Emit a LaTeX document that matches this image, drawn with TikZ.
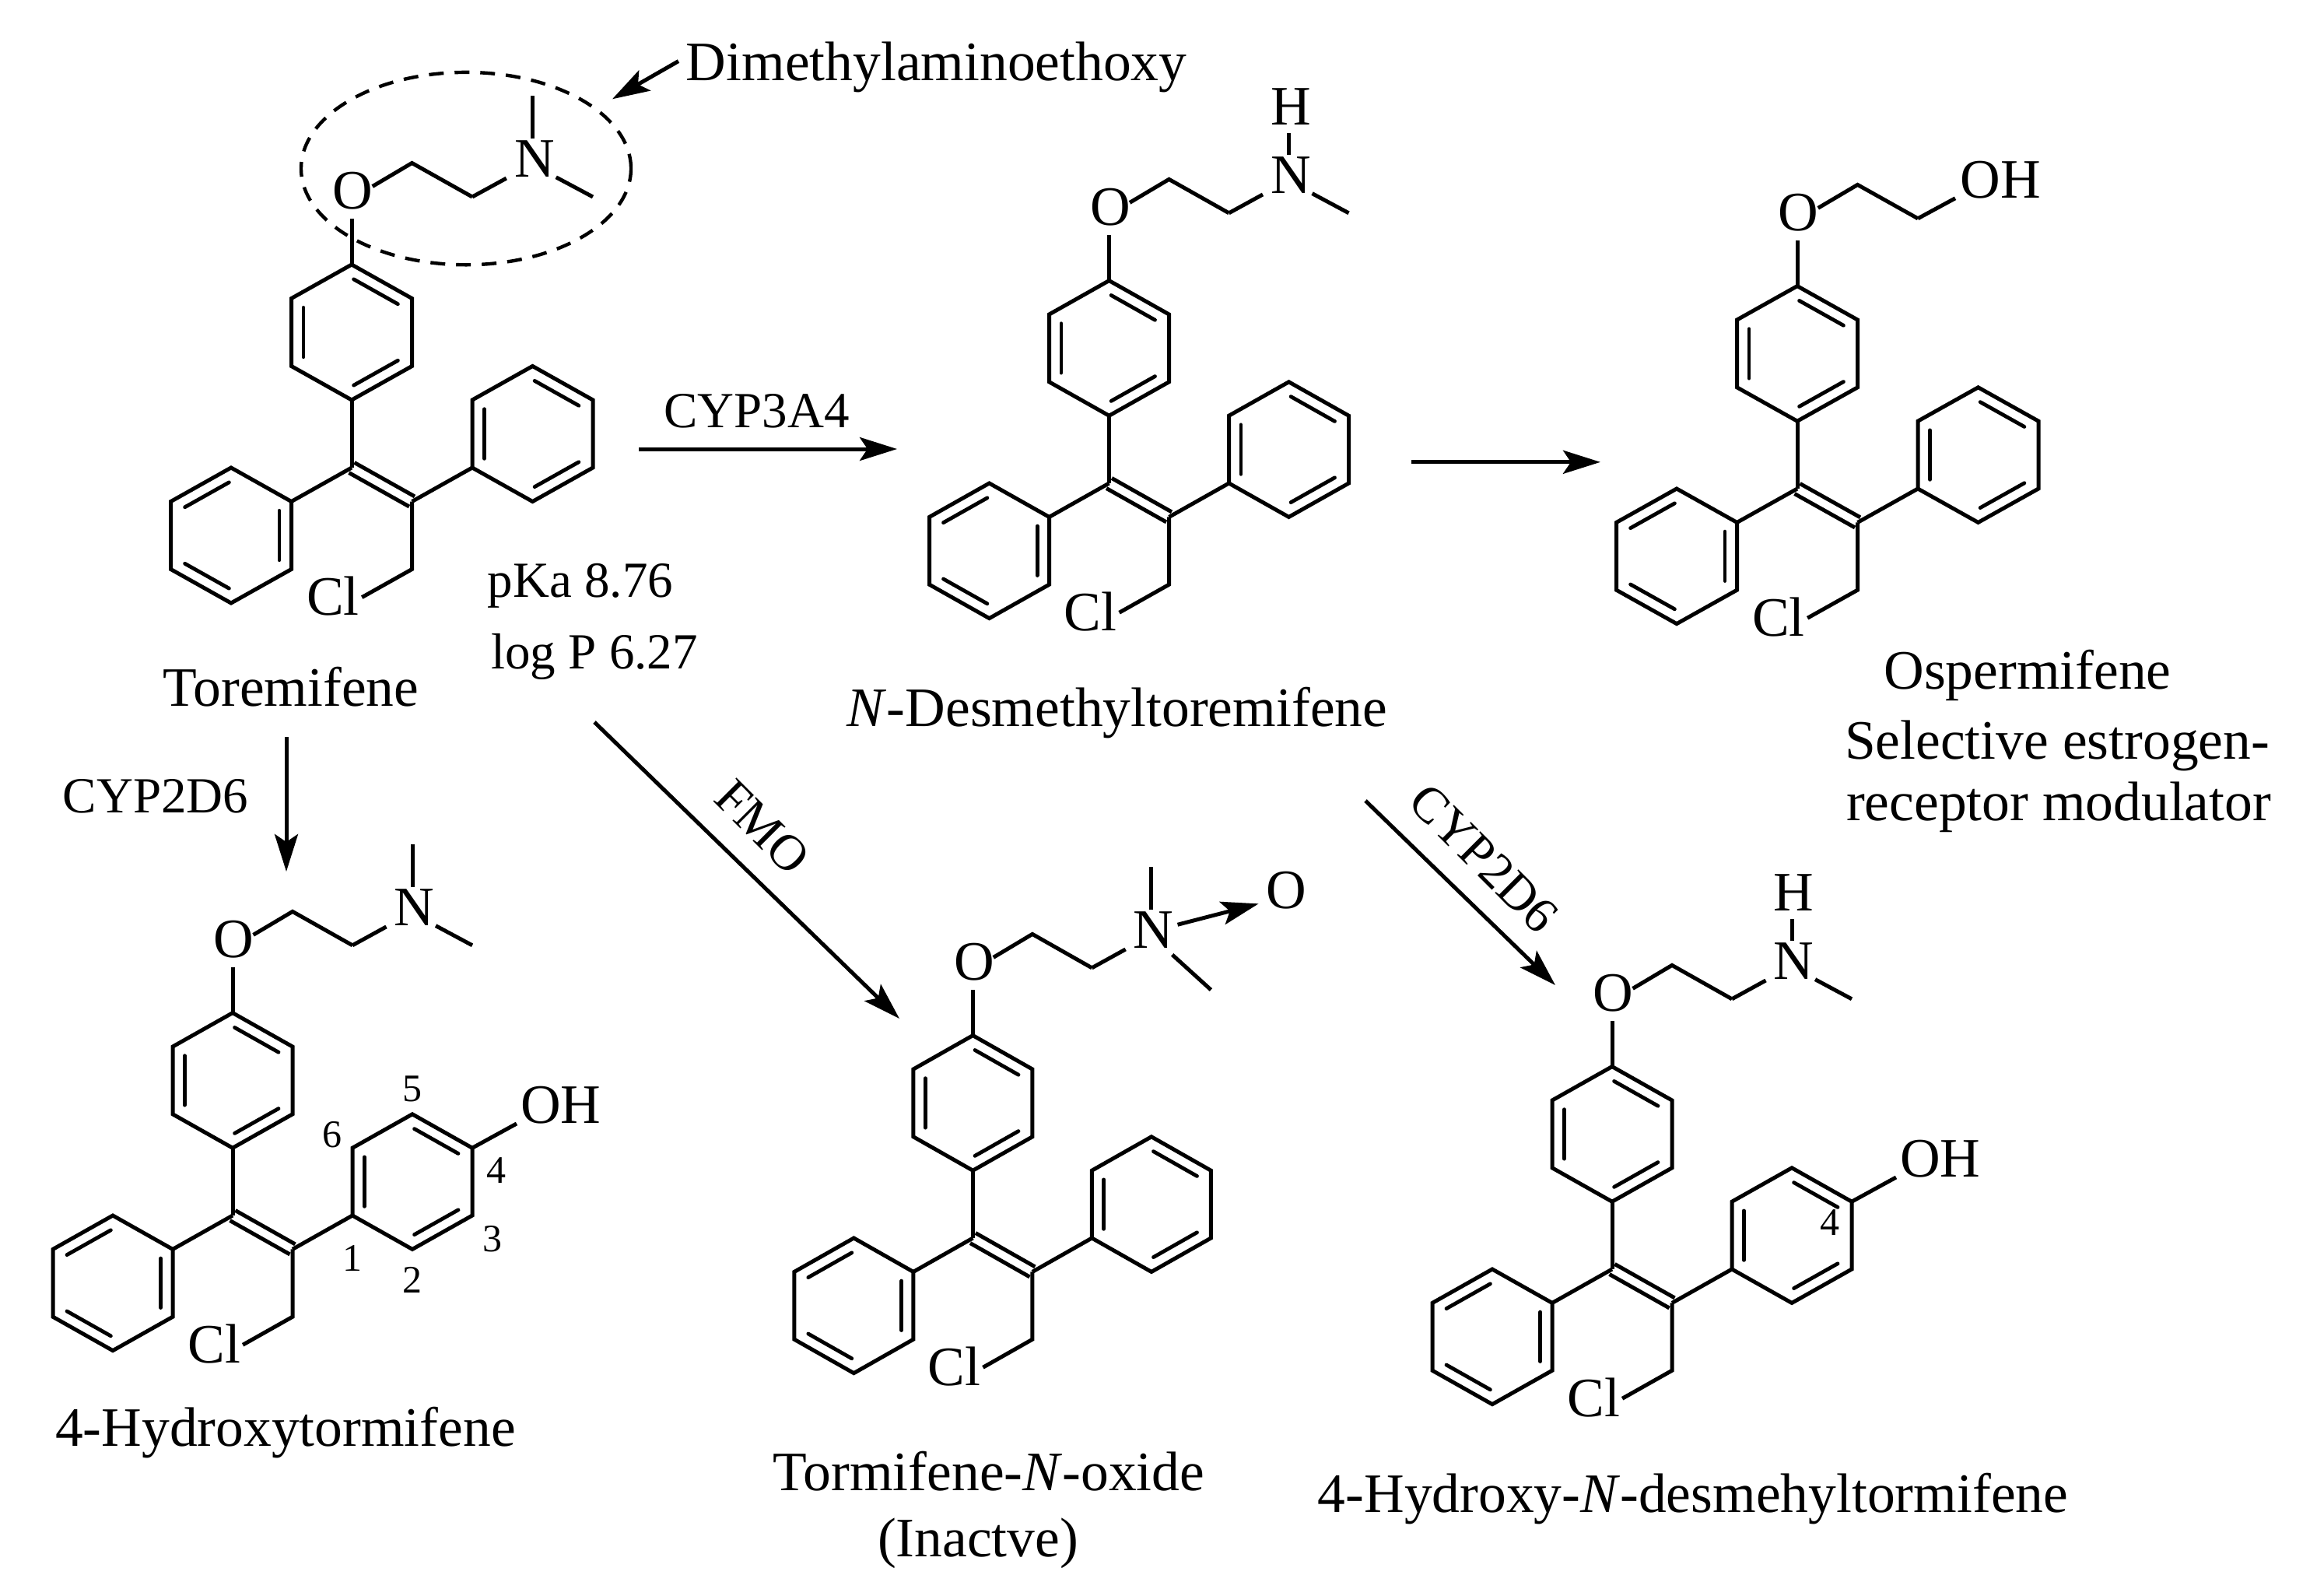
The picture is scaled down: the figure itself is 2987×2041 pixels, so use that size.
\documentclass[tikz,border=0pt]{standalone}
\usepackage{fontspec}
\setmainfont{Liberation Serif}
\usetikzlibrary{calc,arrows.meta}
\tikzset{
  bond/.style={line width=2.5pt,line join=miter,line cap=butt},
  innerb/.style={line width=2.4pt,line cap=round,shorten <=1.5pt,shorten >=1.5pt},
  atom/.style={inner sep=0pt,font=\fontsize{35.75}{40}\selectfont},
  cmpdname/.style={inner sep=0pt,anchor=base,font=\fontsize{35.75}{40}\selectfont},
  enzyme/.style={inner sep=0pt,anchor=base,font=\fontsize{32.5}{36}\selectfont},
  slanted label/.style={inner sep=0pt,font=\fontsize{32.5}{36}\selectfont,rotate=-45},
  ringno/.style={inner sep=0pt,font=\fontsize{25}{28}\selectfont},
  rxn/.style={line width=2.5pt,-{Stealth[length=24pt,width=15pt,inset=5pt]}},
  halo/.style={line width=2.2pt,dash pattern=on 9.5pt off 7pt}
}
\newcommand{\innerbond}[3]{\draw[innerb] ($(#1)!.2!(#3)$) -- ($(#2)!.2!(#3)$);}
\newcommand{\benzene}[7]{%
  \coordinate (#1a) at #2; \coordinate (#1b) at #3; \coordinate (#1c) at #4;
  \coordinate (#1d) at #5; \coordinate (#1e) at #6; \coordinate (#1f) at #7;
  \coordinate (#1m) at ($(#1a)!.5!(#1d)$);
  \draw[bond] (#1a)--(#1b)--(#1c)--(#1d)--(#1e)--(#1f)--cycle;
  \innerbond{#1a}{#1b}{#1m}\innerbond{#1c}{#1d}{#1m}\innerbond{#1e}{#1f}{#1m}%
}
% common skeleton of all six molecules, in a hexagonal lattice
\newcommand{\skeleton}[1]{%
  \benzene{#1A}{(0,-6)}{(1,-5)}{(1,-3)}{(0,-2)}{(-1,-3)}{(-1,-5)}
  \benzene{#1B}{(-1,1)}{(-1,3)}{(-2,4)}{(-3,3)}{(-3,1)}{(-2,0)}
  \benzene{#1C}{(2,0)}{(2,-2)}{(3,-3)}{(4,-2)}{(4,0)}{(3,1)}
  \coordinate (#1v1) at (0,0); \coordinate (#1v2) at (1,1);
  \coordinate (#1ch2) at (1,3); \coordinate (#1clb) at (0.17,3.83);
  \coordinate (#1ob) at (0,-7.35); \coordinate (#1oe) at (0.345,-8.31);
  \coordinate (#1e1) at (1,-9); \coordinate (#1e2) at (2,-8);
  \node[atom] (#1Cl) at (-0.31,3.8) {Cl};
  \node[atom] (#1O) at (0.02,-8.18) {O};
  \draw[bond] (#1Ad)--(#1v1);
  \draw[bond] (#1Ba)--(#1v1);
  \draw[bond] (#1v2)--(#1Ca);
  \draw[bond] (#1v2)--(#1ch2)--(#1clb);
  \draw[bond] ($(#1v1)+(0.045,-0.15)$)--($(#1v2)+(0.045,-0.15)$);
  \draw[bond] ($(#1v1)+(-0.045,0.15)$)--($(#1v2)+(-0.045,0.15)$);
  \draw[bond] (#1Aa)--(#1ob);
  \draw[bond] (#1oe)--(#1e1)--(#1e2);
}
\newcommand{\amine}[1]{%
  \coordinate (#1nb) at (2.565,-8.55);
  \coordinate (#1nm) at (3.39,-8.58);
  \coordinate (#1me) at (4,-8);
  \node[atom] (#1N) at (3.03,-9.13) {N};
  \draw[bond] (#1e2)--(#1nb);
  \draw[bond] (#1nm)--(#1me);
}
\newcommand{\topmethyl}[1]{%
  \coordinate (#1t1) at (3,-9.72); \coordinate (#1t2) at (3,-10.99);
  \draw[bond] (#1t1)--(#1t2);
}
\newcommand{\nh}[1]{%
  \coordinate (#1t1) at (3,-9.72); \coordinate (#1t2) at (3,-10.37);
  \node[atom] (#1H) at (3.03,-11.15) {H};
  \draw[bond] (#1t1)--(#1t2);
}
\newcommand{\phenol}[1]{%
  \coordinate (#1ohb) at (4.74,-2.72);
  \node[atom] (#1OH) at (5.48,-3.26) {OH};
  \draw[bond] (#1Cd)--(#1ohb);
}
\begin{document}
\begin{tikzpicture}[x=0.5pt,y=-0.5pt]
\useasboundingbox (0,0) rectangle (2987,2041);

% Toremifene
\begin{scope}[shift={(452,601)},x=38.75pt,y=-21.75pt]
  \skeleton{m1}\amine{m1}\topmethyl{m1}
\end{scope}
% N-Desmethyltoremifene
\begin{scope}[shift={(1425.5,621)},x=38.5pt,y=-21.7pt]
  \skeleton{m2}\amine{m2}\nh{m2}
\end{scope}
% Ospermifene
\begin{scope}[shift={(2310,628)},x=38.75pt,y=-21.7pt]
  \skeleton{m3}
  \coordinate (m3ohb) at (2.62,-8.6);
  \node[atom] (m3OH) at (3.37,-9.14) {OH};
  \draw[bond] (m3e2)--(m3ohb);
\end{scope}
% 4-Hydroxytoremifene
\begin{scope}[shift={(299,1562)},x=38.5pt,y=-21.7pt]
  \skeleton{m4}\amine{m4}\topmethyl{m4}\phenol{m4}
\end{scope}
% Toremifene N-oxide
\begin{scope}[shift={(1250.4,1591)},x=38.25pt,y=-21.7pt]
  \skeleton{m5}
  \coordinate (m5nb) at (2.565,-8.55);
  \coordinate (m5nm) at (3.35,-8.39);
  \coordinate (m5me) at (4,-7.35);
  \coordinate (m5ab) at (3.44,-9.28);
  \coordinate (m5ae) at (4.8,-9.9);
  \node[atom] (m5N) at (3.03,-9.13) {N};
  \node[atom] (m5Ox) at (5.27,-10.3) {O};
  \draw[bond] (m5e2)--(m5nb);
  \draw[bond] (m5nm)--(m5me);
  \topmethyl{m5}
  \draw[rxn] (m5ab)--(m5ae);
\end{scope}
% 4-Hydroxy-N-desmethyl
\begin{scope}[shift={(2072,1631)},x=38.5pt,y=-21.7pt]
  \skeleton{m6}\amine{m6}\nh{m6}\phenol{m6}
\end{scope}

% ring position numbers
\node[ringno] (p5) at (529.8,1398.9) {5};
\node[ringno] (p6) at (426.7,1458.6) {6};
\node[ringno] (p4) at (638,1504.5) {4};
\node[ringno] (p3) at (633.4,1591.7) {3};
\node[ringno] (p2) at (529.8,1645.3) {2};
\node[ringno] (p1) at (453.3,1616.7) {1};
\node[ringno] (q4) at (2352,1570.8) {4};

% dashed group outline and its label
\draw[halo] (599,216.6) ellipse [x radius=106pt,y radius=61.85pt];
\node[cmpdname,anchor=base west] (dma) at (881.5,103) {Dimethylaminoethoxy};
\coordinate (dmaTail) at (872,78.6);
\coordinate (dmaTip) at (787,127.3);
\draw[rxn] (dmaTail)--(dmaTip);

% reaction arrows
\coordinate (r1a) at (821,577);   \coordinate (r1b) at (1153,577);
\coordinate (r2a) at (1814,593.8);\coordinate (r2b) at (2057,593.8);
\coordinate (r3a) at (368,947);   \coordinate (r3b) at (368,1120);
\coordinate (r4a) at (764,928);   \coordinate (r4b) at (1156,1309);
\coordinate (r5a) at (1755,1029); \coordinate (r5b) at (1999,1266);
\draw[rxn] (r1a)--(r1b);
\draw[rxn] (r2a)--(r2b);
\draw[rxn] (r3a)--(r3b);
\draw[rxn] (r4a)--(r4b);
\draw[rxn] (r5a)--(r5b);

% enzyme labels
\node[enzyme] (e1) at (972.5,549) {CYP3A4};
\node[enzyme] (e2) at (200,1044) {CYP2D6};
\node[slanted label] (e3) at (980,1063) {FMO};
\node[slanted label] (e4) at (1907,1103) {CYP2D6};

% properties
\node[enzyme,anchor=base west] (pka) at (626.5,767) {pKa 8.76};
\node[enzyme,anchor=base west] (logp) at (631,859) {log P 6.27};

% compound names
\node[cmpdname] (n1) at (374,907) {Toremifene};
\node[cmpdname] (n2) at (1436,933) {\textit{N}-Desmethyltoremifene};
\node[cmpdname] (n3) at (2606,885) {Ospermifene};
\node[cmpdname] (n3a) at (2644,975) {Selective estrogen-};
\node[cmpdname] (n3b) at (2646,1054) {receptor modulator};
\node[cmpdname] (n4) at (367,1858) {4-Hydroxytormifene};
\node[cmpdname] (n5) at (1271,1915) {Tormifene-\textit{N}-oxide};
\node[cmpdname] (n5a) at (1257,2000) {(Inactve)};
\node[cmpdname] (n6) at (2176,1943) {4-Hydroxy-\textit{N}-desmehyltormifene};
\end{tikzpicture}
\end{document}
